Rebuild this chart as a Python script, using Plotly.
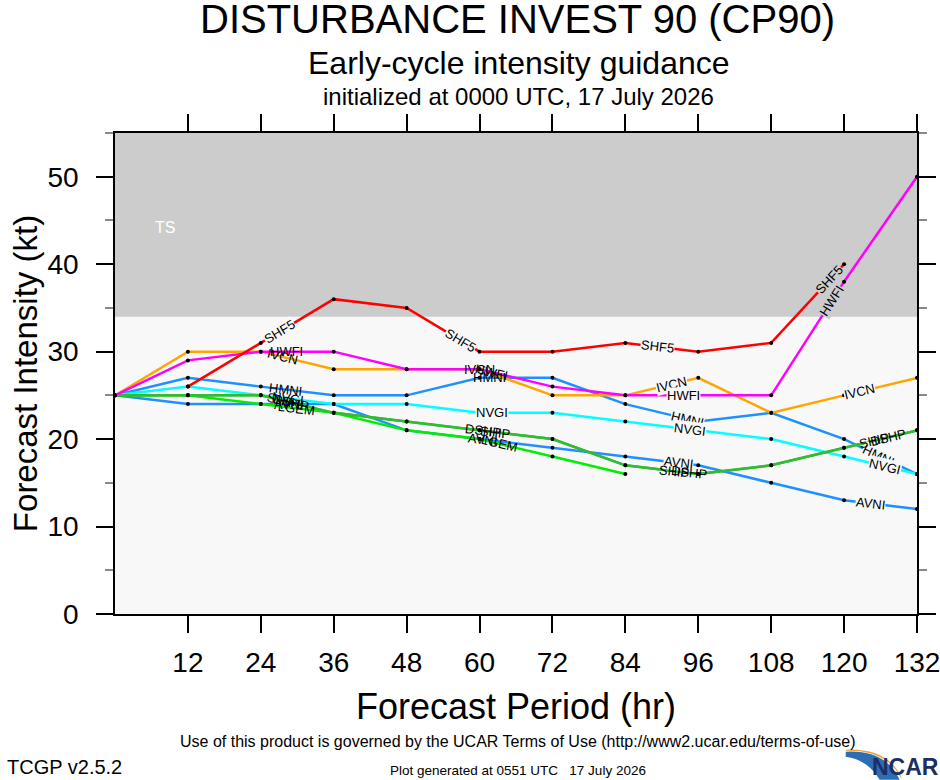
import math
import numpy as np
import plotly.graph_objects as go

# forecast hours and intensity guidance (kt)
hours = [0, 12, 24, 36, 48, 60, 72, 84, 96, 108, 120, 132]
shf5 = [None, 26, 31, 36, 35, 30, 30, 31, 30, 31, 40, None]
hwfi = [25, 29, 30, 30, 28, 28, 26, 25, 25, 25, 38, 50]
ivcn = [25, 30, 30, 28, 28, 28, 25, 25, 27, 23, 25, 27]
hmni = [25, 27, 26, 25, 25, 27, 27, 24, 22, 23, 20, 16]
nvgi = [25, 26, 25, 24, 24, 23, 23, 22, 21, 20, 18, 16]
avni = [25, 24, 24, 24, 21, 20, 19, 18, 17, 15, 13, 12]
ship = [25, 25, 25, 23, 22, 21, 20, 17, 16, 17, 19, 21]
dshp = [25, 25, 25, 23, 22, 21, 20, 17, 16, 17, 19, 21]
lgem = [25, 25, 24, 23, 21, 20, 18, 16, None, None, None, None]

xticks = [12, 24, 36, 48, 60, 72, 84, 96, 108, 120, 132]
ts_threshold = 34

# name, values, colour, label hours, gap behind label
models = [
    ("AVNI", avni, "#1e90ff", [28.6, 60.5, 92.7, 124.4], [0, 0, 1, 1]),
    ("HMNI", hmni, "#1e90ff", [28.0, 61.7, 94.3, 125.6], [0, 0, 1, 1]),
    ("NVGI", nvgi, "#00ffff", [28.5, 62.0, 94.6, 126.7], [0, 1, 1, 1]),
    ("LGEM", lgem, "#00ee00", [29.8, 63.3], [0, 0]),
    ("SHIP", ship, "#33bb33", [27.5, 62.5, 92.0, 125.0], [0, 0, 0, 0]),
    ("DSHP", dshp, "#33bb33", [29.0, 60.5, 94.5, 127.3], [0, 0, 0, 0]),
    ("IVCN", ivcn, "#ffa500", [27.5, 60.0, 91.6, 122.6], [0, 0, 1, 1]),
    ("HWFI", hwfi, "#ff00ff", [28.3, 62.0, 93.5, 118.0], [0, 0, 1, 1]),
    ("SHF5", shf5, "#ff0000", [27.1, 56.9, 89.3, 117.6], [1, 1, 1, 1]),
]

W, H = 940, 780
L, R, T, B = 115, 917.3, 133.3, 614.3
XMAX, YMAX = 132, 55
px_hr = (R - L) / XMAX
px_kt = (B - T) / YMAX


def paper(x, y):
    return (x - L) / (R - L), (B - y) / (B - T)


fig = go.Figure()

for name, vals, color, lab_hours, gaps in models:
    fig.add_trace(go.Scatter(
        x=hours, y=vals, mode="lines+markers", name=name,
        line=dict(color=color, width=2.5),
        marker=dict(color="black", size=4),
        connectgaps=False, showlegend=False,
    ))
    xs = np.array([h for h, v in zip(hours, vals) if v is not None], float)
    ys = np.array([v for v in vals if v is not None], float)
    for h, gap in zip(lab_hours, gaps):
        i = max(0, min(len(xs) - 2, np.searchsorted(xs, h) - 1))
        slope = (ys[i + 1] - ys[i]) / (xs[i + 1] - xs[i])
        ang = -math.degrees(math.atan(slope * px_kt / px_hr))
        yv = float(np.interp(h, xs, ys))
        bg = ("#cccccc" if yv > ts_threshold else "#f8f8f8") if gap else "rgba(0,0,0,0)"
        fig.add_annotation(x=h, y=yv, text=name, showarrow=False, textangle=ang,
                           xanchor="center", yanchor="middle",
                           font=dict(family="Liberation Sans", size=13, color="black"),
                           bgcolor=bg, borderpad=0)

# tropical storm band
fig.add_shape(type="rect", xref="x", yref="y", x0=0, x1=XMAX, y0=ts_threshold, y1=YMAX,
              fillcolor="#cccccc", line=dict(width=0), layer="below")
fig.add_annotation(x=8.2, y=44.2, text="TS", showarrow=False,
                   xanchor="center", yanchor="middle",
                   font=dict(family="Liberation Sans", size=16, color="white"))

# titles and footer text
def txt(x, y, s, size, xanchor="center", color="black"):
    px, py = paper(x, y)
    fig.add_annotation(xref="paper", yref="paper", x=px, y=py, text=s, showarrow=False,
                       xanchor=xanchor, yanchor="middle",
                       font=dict(family="Liberation Sans", size=size, color=color))

txt(518, 19, "DISTURBANCE INVEST 90 (CP90)", 40)
txt(519, 63, "Early-cycle intensity guidance", 32)
txt(519, 97, "initialized at 0000 UTC, 17 July 2026", 24)
txt(518, 742, "Use of this product is governed by the UCAR Terms of Use (http://www2.ucar.edu/terms-of-use)", 16)
txt(5, 767, "TCGP v2.5.2", 20, xanchor="left")
txt(518, 771, "Plot generated at 0551 UTC \u00a0 17 July 2026", 13.5)
txt(941, 767, "<b>NCAR</b>", 23, xanchor="right", color="#1b2f63")

# NCAR swoosh
def path(pts):
    out = []
    for cmd, coords in pts:
        conv = []
        for k in range(0, len(coords), 2):
            a, b = paper(coords[k], coords[k + 1])
            conv.append(f"{a:.5f},{b:.5f}")
        out.append(cmd + " " + " ".join(conv))
    return " ".join(out) + " Z"

fig.add_shape(type="path", xref="paper", yref="paper",
              path=path([("M", [846, 752]), ("Q", [886, 750, 900, 780]), ("L", [880, 780]),
                         ("Q", [868, 760, 846, 757])]),
              fillcolor="#2c6db3", line=dict(width=0))
fig.add_shape(type="path", xref="paper", yref="paper",
              path=path([("M", [846, 750]), ("Q", [888, 748, 902, 778]), ("L", [901, 778]),
                         ("Q", [887, 750, 846, 751])]),
              fillcolor="#f0a030", line=dict(width=0))

axis_font = dict(family="Liberation Sans", size=28, color="black")
fig.update_xaxes(range=[0, XMAX], tickvals=xticks, ticks="outside", ticklen=17,
                 tickwidth=1.5, tickcolor="black", showline=True, linecolor="black",
                 linewidth=1.5, mirror="ticks", showgrid=False, zeroline=False,
                 tickfont=axis_font, ticklabelstandoff=6, automargin=False,
                 ticklabeloverflow="allow",
                 title=dict(text="Forecast Period (hr)", standoff=16,
                            font=dict(family="Liberation Sans", size=36, color="black")))
fig.update_yaxes(range=[0, YMAX], dtick=10, tick0=0, ticks="outside", ticklen=17,
                 tickwidth=1.5, tickcolor="black", showline=True, linecolor="black",
                 linewidth=1.5, mirror="ticks", showgrid=False, zeroline=False,
                 minor=dict(dtick=5, ticks="outside", ticklen=8, tickcolor="#888888", tickwidth=1.5),
                 tickfont=axis_font, ticklabelstandoff=12, automargin=False,
                 title=dict(text="Forecast Intensity (kt)", standoff=0,
                            font=dict(family="Liberation Sans", size=33, color="black")))

fig.update_layout(
    width=W, height=H,
    margin=dict(l=L, r=W - R, t=T, b=H - B),
    paper_bgcolor="white", plot_bgcolor="#f8f8f8",
    showlegend=False,
)

fig.write_html("out.html", config={"displayModeBar": False},
               post_script="document.body.style.margin='0px';")
